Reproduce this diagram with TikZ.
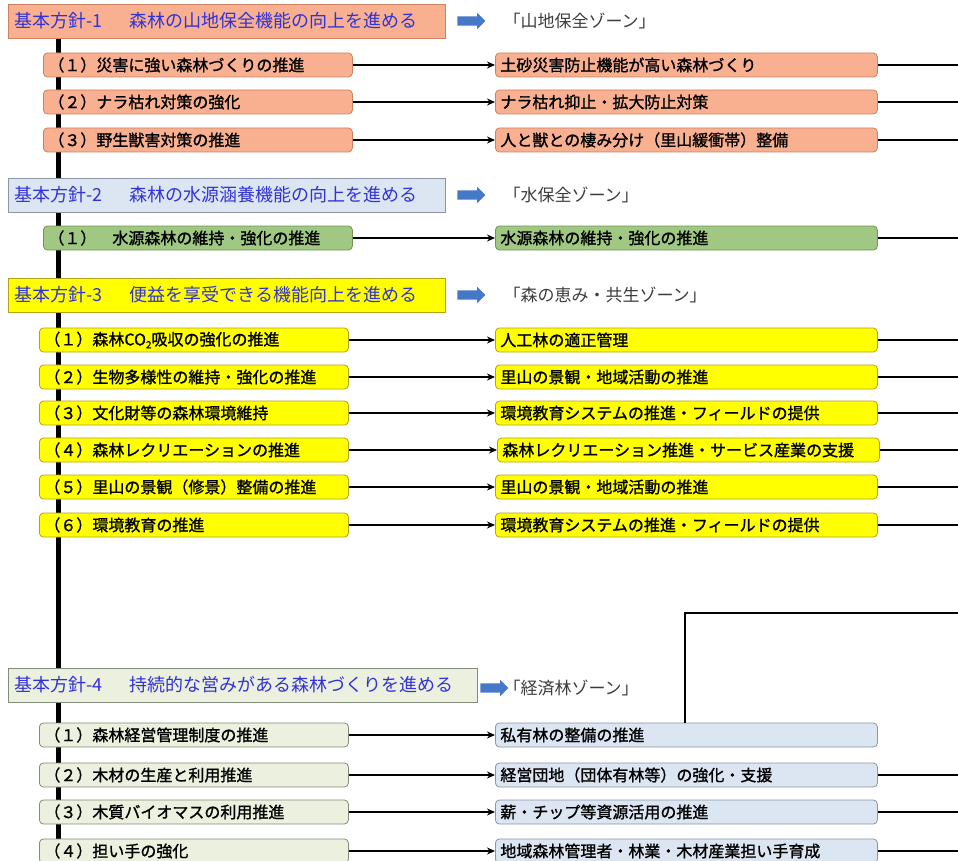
\documentclass[tikz,border=0pt]{standalone}
\usepackage{fontspec}
\setmainfont{Noto Sans CJK JP}
\newfontfamily\jpbold[FakeBold=1.2]{Noto Sans CJK JP}
\usetikzlibrary{arrows.meta,shapes.arrows}

\definecolor{salmon}{RGB}{248,176,145}
\definecolor{salmonline}{RGB}{205,130,95}
\definecolor{paleblue}{RGB}{220,230,242}
\definecolor{paleblueline}{RGB}{140,150,165}
\definecolor{leafgreen}{RGB}{160,200,130}
\definecolor{leafline}{RGB}{110,150,80}
\definecolor{lemon}{RGB}{255,255,0}
\definecolor{lemonline}{RGB}{185,160,20}
\definecolor{palegreen}{RGB}{235,241,222}
\definecolor{palegreenline}{RGB}{130,140,120}
\definecolor{headblue}{RGB}{50,50,215}
\definecolor{arrowblue}{RGB}{70,120,200}
\definecolor{zonegray}{RGB}{60,60,60}

\tikzset{
  policy/.style={draw, line width=0.8pt, minimum height=34pt, anchor=west,
    align=left, inner xsep=6pt, text=headblue,
    font=\fontsize{18}{20}\selectfont},
  item/.style={draw, rounded corners=4pt, line width=0.8pt, minimum height=24pt,
    anchor=west, align=left, inner xsep=5pt, inner ysep=0pt,
    font=\jpbold\fontsize{16}{18}\selectfont},
  lbox/.style={item, text width=299pt},
  rbox/.style={item, text width=372pt},
  zone/.style={anchor=west, text=zonegray, font=\fontsize{17}{19}\selectfont},
  zonearrow/.style={single arrow, fill=arrowblue, inner xsep=0pt, inner ysep=4.5pt,
    minimum height=28pt, single arrow head extend=3.5pt},
  link/.style={line width=1.8pt, -{Stealth[length=8pt,width=7pt]}},
  tail/.style={line width=2.2pt},
  spine/.style={line width=5pt}
}

\begin{document}
\begin{tikzpicture}[x=1pt,y=-1pt]
  \useasboundingbox (0,0) rectangle (958,861);
  \coordinate (rim) at (958,0);
  \coordinate (top) at (58,38);
  \coordinate (bot) at (58,870);
  \draw[spine] (top) -- (bot);

  % policy 1
  \node[policy, fill=salmon, draw=salmonline, text width=425pt] (h1) at (8,21)
    {基本方針-1\hspace{1.5em}森林の山地保全機能の向上を進める};
  \node[zonearrow] (za1) at (469,21) {};
  \node[zone] (z1) at (500,21) {「山地保全ゾーン」};
  \node[lbox, fill=salmon, draw=salmonline] (l11) at (43,65) {（１）災害に強い森林づくりの推進};
  \node[lbox, fill=salmon, draw=salmonline] (l12) at (43,102) {（２）ナラ枯れ対策の強化};
  \node[lbox, fill=salmon, draw=salmonline] (l13) at (43,140) {（３）野生獣害対策の推進};
  \node[rbox, fill=salmon, draw=salmonline] (r11) at (495,65) {土砂災害防止機能が高い森林づくり};
  \node[rbox, fill=salmon, draw=salmonline] (r12) at (495,102) {ナラ枯れ抑止・拡大防止対策};
  \node[rbox, fill=salmon, draw=salmonline] (r13) at (495,140) {人と獣との棲み分け（里山緩衝帯）整備};
  \draw[link] (l11) -- (r11);
  \draw[link] (l12) -- (r12);
  \draw[link] (l13) -- (r13);
  \draw[tail] (r11.east) -- (r11 -| rim);
  \draw[tail] (r12.east) -- (r12 -| rim);
  \draw[tail] (r13.east) -- (r13 -| rim);

  % policy 2
  \node[policy, fill=paleblue, draw=paleblueline, text width=425pt] (h2) at (8,195)
    {基本方針-2\hspace{1.5em}森林の水源涵養機能の向上を進める};
  \node[zonearrow] (za2) at (469,195) {};
  \node[zone] (z2) at (500,195) {「水保全ゾーン」};
  \node[lbox, fill=leafgreen, draw=leafline] (l21) at (43,238) {（１）　水源森林の維持・強化の推進};
  \node[rbox, fill=leafgreen, draw=leafline] (r21) at (495,238) {水源森林の維持・強化の推進};
  \draw[link] (l21) -- (r21);
  \draw[tail] (r21.east) -- (r21 -| rim);

  % policy 3
  \node[policy, fill=lemon, draw=lemonline, text width=425pt] (h3) at (8,295)
    {基本方針-3\hspace{1.5em}便益を享受できる機能向上を進める};
  \node[zonearrow] (za3) at (469,295) {};
  \node[zone] (z3) at (500,295) {「森の恵み・共生ゾーン」};
  \node[lbox, fill=lemon, draw=lemonline] (l31) at (39,340)
    {（１）森林CO\raisebox{-3pt}{\fontsize{10}{10}\selectfont 2}吸収の強化の推進};
  \node[lbox, fill=lemon, draw=lemonline] (l32) at (39,377) {（２）生物多様性の維持・強化の推進};
  \node[lbox, fill=lemon, draw=lemonline] (l33) at (39,413) {（３）文化財等の森林環境維持};
  \node[lbox, fill=lemon, draw=lemonline] (l34) at (39,450) {（４）森林レクリエーションの推進};
  \node[lbox, fill=lemon, draw=lemonline] (l35) at (39,487) {（５）里山の景観（修景）整備の推進};
  \node[lbox, fill=lemon, draw=lemonline] (l36) at (39,525) {（６）環境教育の推進};
  \node[rbox, fill=lemon, draw=lemonline] (r31) at (495,340) {人工林の適正管理};
  \node[rbox, fill=lemon, draw=lemonline] (r32) at (495,377) {里山の景観・地域活動の推進};
  \node[rbox, fill=lemon, draw=lemonline] (r33) at (495,413) {環境教育システムの推進・フィールドの提供};
  \node[rbox, fill=lemon, draw=lemonline] (r34) at (497,450) {森林レクリエーション推進・サービス産業の支援};
  \node[rbox, fill=lemon, draw=lemonline] (r35) at (495,487) {里山の景観・地域活動の推進};
  \node[rbox, fill=lemon, draw=lemonline] (r36) at (495,525) {環境教育システムの推進・フィールドの提供};
  \draw[link] (l31) -- (r31);
  \draw[link] (l32) -- (r32);
  \draw[link] (l33) -- (r33);
  \draw[link] (l34) -- (r34);
  \draw[link] (l35) -- (r35);
  \draw[link] (l36) -- (r36);
  \draw[tail] (r31.east) -- (r31 -| rim);
  \draw[tail] (r32.east) -- (r32 -| rim);
  \draw[tail] (r33.east) -- (r33 -| rim);
  \draw[tail] (r34.east) -- (r34 -| rim);
  \draw[tail] (r35.east) -- (r35 -| rim);
  \draw[tail] (r36.east) -- (r36 -| rim);

  % policy 4
  \node[policy, fill=palegreen, draw=palegreenline, text width=457pt] (h4) at (8,685)
    {基本方針-4\hspace{1.5em}持続的な営みがある森林づくりを進める};
  \node[zonearrow] (za4) at (492,688) {};
  \node[zone] (z4) at (500,688) {「経済林ゾーン」};
  \node[lbox, fill=palegreen, draw=palegreenline] (l41) at (39,735) {（１）森林経営管理制度の推進};
  \node[lbox, fill=palegreen, draw=palegreenline] (l42) at (39,775) {（２）木材の生産と利用推進};
  \node[lbox, fill=palegreen, draw=palegreenline] (l43) at (39,812) {（３）木質バイオマスの利用推進};
  \node[lbox, fill=palegreen, draw=palegreenline] (l44) at (39,851) {（４）担い手の強化};
  \node[rbox, fill=paleblue, draw=paleblueline] (r41) at (495,735) {私有林の整備の推進};
  \node[rbox, fill=paleblue, draw=paleblueline] (r42) at (495,775) {経営団地（団体有林等）の強化・支援};
  \node[rbox, fill=paleblue, draw=paleblueline] (r43) at (495,812) {薪・チップ等資源活用の推進};
  \node[rbox, fill=paleblue, draw=paleblueline] (r44) at (495,851) {地域森林管理者・林業・木材産業担い手育成};
  \draw[link] (l41) -- (r41);
  \draw[link] (l42) -- (r42);
  \draw[link] (l43) -- (r43);
  \draw[link] (l44) -- (r44);
  \coordinate (bend) at (685,613);
  \draw[tail] (r41.north -| bend) -- (bend) -- (bend -| rim);
  \draw[tail] (r42.east) -- (r42 -| rim);
  \draw[tail] (r43.east) -- (r43 -| rim);
  \draw[tail] (r44.east) -- (r44 -| rim);
\end{tikzpicture}
\end{document}
